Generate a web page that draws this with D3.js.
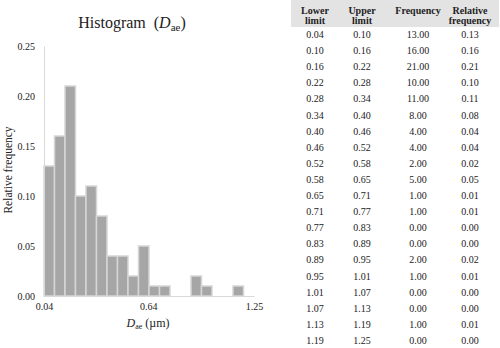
<!DOCTYPE html>
<html>
<head>
<meta charset="utf-8">
<script src="https://cdn.jsdelivr.net/npm/d3@7/dist/d3.min.js"></script>
<style>
  body { margin: 0; background: #fff; }
  svg, svg text { font-family: "Liberation Serif", "Times New Roman", serif; }
</style>
</head>
<body>
<div id="chart"></div>
<script>

// bins of Dae (um)
var lowerLimits = ["0.04","0.10","0.16","0.22","0.28","0.34","0.40","0.46","0.52","0.58",
  "0.65","0.71","0.77","0.83","0.89","0.95","1.01","1.07","1.13","1.19"];
var upperLimits = ["0.10","0.16","0.22","0.28","0.34","0.40","0.46","0.52","0.58","0.65",
  "0.71","0.77","0.83","0.89","0.95","1.01","1.07","1.13","1.19","1.25"];
var frequencies = [13,16,21,10,11,8,4,4,2,5,1,1,0,0,2,1,0,0,1,0];
var relFrequencies = [0.13,0.16,0.21,0.10,0.11,0.08,0.04,0.04,0.02,0.05,
  0.01,0.01,0.00,0.00,0.02,0.01,0.00,0.00,0.01,0.00];

var yTicks = [0, 0.05, 0.10, 0.15, 0.20, 0.25];
var xTicks = [0.04, 0.64, 1.25];
var headers = [["Lower","limit"],["Upper","limit"],["Frequency"],["Relative","frequency"]];

Histogram = function(_parentElement) {
  this.parentElement = _parentElement;
  this.initVis();
};

Histogram.prototype.initVis = function() {
  var vis = this;

  vis.svg = d3.select(vis.parentElement).append("svg")
    .attr("width", 500)
    .attr("height", 348);

  vis.plot = {left: 44, right: 254, top: 46, bottom: 296};

  vis.x = d3.scaleBand()
    .domain(d3.range(lowerLimits.length))
    .range([vis.plot.left, vis.plot.right])
    .paddingInner(0).paddingOuter(0);

  vis.xLin = d3.scaleLinear()
    .domain([0.04, 1.25])
    .range([vis.plot.left, vis.plot.right]);

  vis.y = d3.scaleLinear()
    .domain([0, 0.25])
    .range([vis.plot.bottom, vis.plot.top]);

  vis.drawChart();
  vis.drawTable();
};

Histogram.prototype.drawChart = function() {
  var vis = this;

  // title
  var title = vis.svg.append("text")
    .attr("x", 132).attr("y", 28)
    .attr("text-anchor", "middle")
    .attr("font-size", 16)
    .attr("fill", "#222");
  title.append("tspan").text("Histogram\u00a0\u00a0(");
  title.append("tspan").attr("font-style", "italic").text("D");
  title.append("tspan").attr("font-size", 11).attr("dy", 3).text("ae");
  title.append("tspan").attr("dy", -3).text(")");

  // bars
  vis.svg.append("g").selectAll("rect")
    .data(relFrequencies)
    .enter().append("rect")
    .attr("x", function(d, i) { return vis.x(i); })
    .attr("y", function(d) { return vis.y(d); })
    .attr("width", vis.x.bandwidth())
    .attr("height", function(d) { return vis.y(0) - vis.y(d); })
    .attr("fill", "#a6a6a6")
    .attr("stroke", "#d6d6d6")
    .attr("stroke-width", 1.5)
    .attr("display", function(d) { return d > 0 ? null : "none"; });

  // y axis
  var yAxis = vis.svg.append("g")
    .attr("transform", "translate(" + vis.plot.left + ",0)")
    .call(d3.axisLeft(vis.y).tickValues(yTicks).tickSize(0).tickPadding(9)
      .tickFormat(d3.format(".2f")));
  yAxis.attr("font-family", null);
  yAxis.select(".domain").attr("stroke", "#d9d9d9").attr("stroke-width", 1);
  yAxis.selectAll("text").attr("font-size", 10).attr("fill", "#222")
    .style("font-family", "'Liberation Serif', serif");

  // x axis
  var xAxis = vis.svg.append("g")
    .attr("transform", "translate(0," + vis.plot.bottom + ")")
    .call(d3.axisBottom(vis.xLin).tickValues(xTicks).tickSize(0).tickPadding(7)
      .tickFormat(d3.format(".2f")));
  xAxis.attr("font-family", null);
  xAxis.select(".domain").attr("stroke", "#d9d9d9").attr("stroke-width", 1);
  xAxis.selectAll("text").attr("font-size", 10).attr("fill", "#222")
    .style("font-family", "'Liberation Serif', serif");

  // axis titles
  var xt = vis.svg.append("text")
    .attr("x", 148).attr("y", 327)
    .attr("text-anchor", "middle")
    .attr("font-size", 12)
    .attr("fill", "#222");
  xt.append("tspan").attr("font-style", "italic").text("D");
  xt.append("tspan").attr("font-size", 8).attr("dy", 2).text("ae");
  xt.append("tspan").attr("dy", -2).text("\u00a0(\u00b5m)");

  vis.svg.append("text")
    .attr("transform", "translate(12,170) rotate(-90)")
    .attr("text-anchor", "middle")
    .attr("font-size", 11.5)
    .attr("fill", "#222")
    .text("Relative frequency");
};

Histogram.prototype.drawTable = function() {
  var vis = this;

  var colX = [315, 362, 418, 470];
  var rowY0 = 38, rowH = 16.1;

  vis.svg.append("rect")
    .attr("x", 291).attr("y", 0)
    .attr("width", 208).attr("height", 27)
    .attr("fill", "#e3e3e3");

  headers.forEach(function(h, j) {
    h.forEach(function(line, k) {
      vis.svg.append("text")
        .attr("x", colX[j])
        .attr("y", h.length == 1 ? 13.5 : 13.5 + k * 10.5)
        .attr("text-anchor", "middle")
        .attr("font-size", 10)
        .attr("font-weight", "bold")
        .attr("fill", "#222")
        .text(line);
    });
  });

  var rows = lowerLimits.map(function(d, i) {
    return [d, upperLimits[i], frequencies[i].toFixed(2), relFrequencies[i].toFixed(2)];
  });

  var rowG = vis.svg.append("g").selectAll("g")
    .data(rows)
    .enter().append("g")
    .attr("transform", function(d, i) { return "translate(0," + (rowY0 + i * rowH) + ")"; });

  rowG.selectAll("text")
    .data(function(d) { return d; })
    .enter().append("text")
    .attr("x", function(d, j) { return colX[j]; })
    .attr("text-anchor", "middle")
    .attr("font-size", 10)
    .attr("fill", "#222")
    .text(function(d) { return d; });
};

var hist = new Histogram("#chart");

</script>
</body>
</html>
